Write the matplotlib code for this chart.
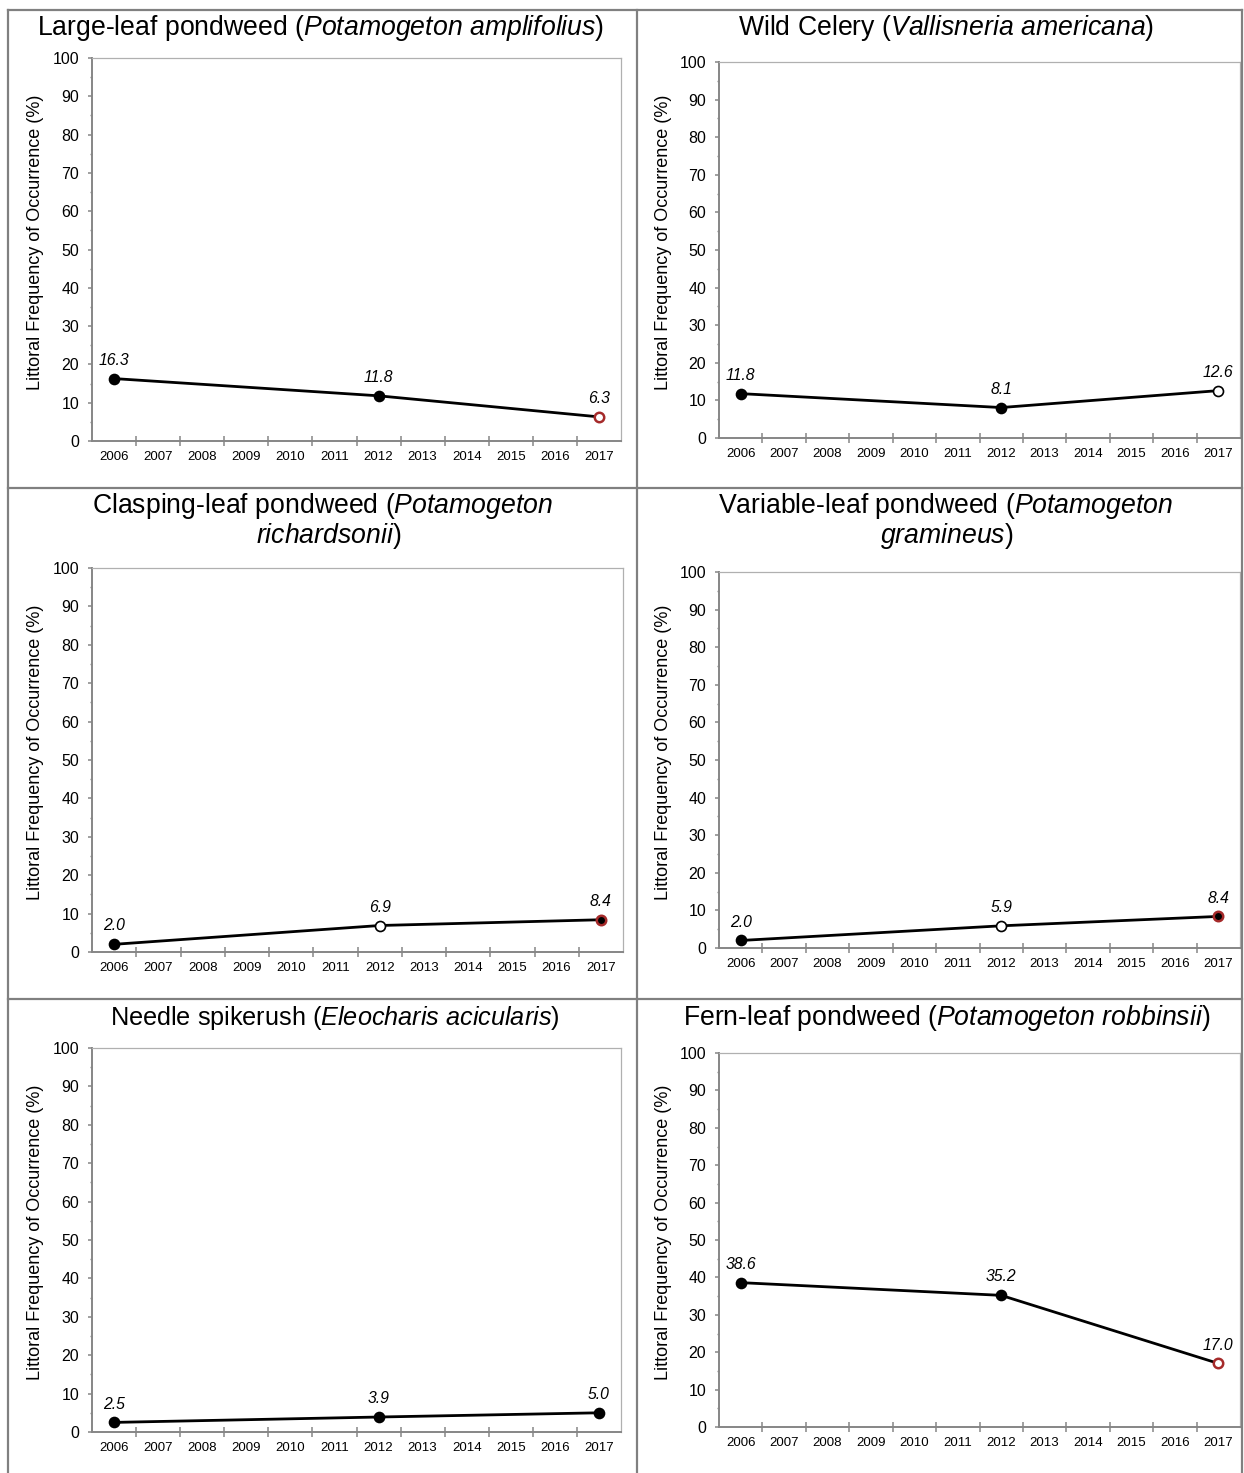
import matplotlib
matplotlib.use("Agg")
import matplotlib.pyplot as plt
from matplotlib.lines import Line2D
from matplotlib.ticker import MultipleLocator

plt.rcParams["font.family"] = ["Liberation Sans", "DejaVu Sans"]
plt.rcParams["mathtext.fontset"] = "custom"
plt.rcParams["mathtext.rm"] = "Liberation Sans"
plt.rcParams["mathtext.it"] = "Liberation Sans:italic"

W, H = 1244, 1473

# category axis and survey years
YEARS = ["2006", "2007", "2008", "2009", "2010", "2011",
         "2012", "2013", "2014", "2015", "2016", "2017"]
SURVEYS = ["2006", "2012", "2017"]

# littoral frequency of occurrence (%) per species
amplifolius = [16.3, 11.8, 6.3]
vallisneria = [11.8, 8.1, 12.6]
richardsonii = [2.0, 6.9, 8.4]
gramineus = [2.0, 5.9, 8.4]
eleocharis = [2.5, 3.9, 5.0]
robbinsii = [38.6, 35.2, 17.0]

BLACK = "#000000"
RED = "#a52a2a"
SPINE = "#868686"
SPINE_LIGHT = "#b0b0b0"
FRAME = "#808080"

# marker (face, edge) per survey point
M_SOLID = ("black", BLACK)
M_OPEN = ("white", BLACK)
M_OPEN_RED = ("white", RED)
M_SOLID_RED = ("black", RED)

panels = [
    # title lines (text, centre x, baseline y), title size, values, markers, axes box (l, t, r, b) px
    ([("Large-leaf pondweed ($\\mathit{Potamogeton\\ amplifolius}$)", 321, 35)], 19.2,
     amplifolius, [M_SOLID, M_SOLID, M_OPEN_RED], (92, 58, 621, 441)),
    ([("Wild Celery ($\\mathit{Vallisneria\\ americana}$)", 946, 35)], 19.2,
     vallisneria, [M_SOLID, M_SOLID, M_OPEN], (719, 62, 1240, 438)),
    ([("Clasping-leaf pondweed ($\\mathit{Potamogeton}$", 323, 513),
      ("$\\mathit{richardsonii}$)", 329, 543)], 19.2,
     richardsonii, [M_SOLID, M_OPEN, M_SOLID_RED], (92, 568, 623, 952)),
    ([("Variable-leaf pondweed ($\\mathit{Potamogeton}$", 946, 513),
      ("$\\mathit{gramineus}$)", 947, 543)], 19.2,
     gramineus, [M_SOLID, M_OPEN, M_SOLID_RED], (719, 572, 1240, 948)),
    ([("Needle spikerush ($\\mathit{Eleocharis\\ acicularis}$)", 335, 1025)], 18.2,
     eleocharis, [M_SOLID, M_SOLID, M_SOLID], (92, 1048, 621, 1432)),
    ([("Fern-leaf pondweed ($\\mathit{Potamogeton\\ robbinsii)}$", 947, 1025)], 19.2,
     robbinsii, [M_SOLID, M_SOLID, M_OPEN_RED], (719, 1053, 1240, 1427)),
]

fig = plt.figure(figsize=(W / 100, H / 100), dpi=100)


def fx(px):
    return px / W


def fy(py):
    return 1 - py / H


# table frame around the six panels
frame_lines = [
    ((8, 8), (10, H)), ((1242, 1242), (10, H)), ((637, 637), (10, H)),
    ((8, 1242), (10, 10)), ((8, 1242), (488, 488)), ((8, 1242), (999, 999)),
]
for xs, ys in frame_lines:
    fig.add_artist(Line2D([fx(x) for x in xs], [fy(y) for y in ys],
                          color=FRAME, lw=1.6, transform=fig.transFigure))

cats = list(range(len(YEARS)))
for lines, tsize, vals, styles, (l, t, r, b) in panels:
    ax = fig.add_axes([fx(l), fy(b), fx(r - l), (b - t) / H])
    xs = [YEARS.index(s) for s in SURVEYS]
    ax.plot(xs, vals, color=BLACK, lw=2.0, zorder=2)
    for x, v, (fc, ec) in zip(xs, vals, styles):
        ew = 1.8 if ec == RED else 1.2
        ax.plot([x], [v], marker="o", ms=6.8 if ec == RED else 7.2, mfc=fc, mec=ec,
                mew=ew, ls="none", zorder=3)
        ax.annotate(f"{v:.1f}", (x, v), xytext=(0, 10), textcoords="offset points",
                    ha="center", va="baseline", style="italic", fontsize=11.3)

    ax.set_xlim(-0.5, len(YEARS) - 0.5)
    ax.set_ylim(0, 100)
    ax.set_xticks([c + 0.5 for c in cats[:-1]])
    ax.set_xticklabels([])
    ax.set_xticks(cats, labels=YEARS, minor=True)
    ax.tick_params(axis="x", which="major", direction="inout", length=7.5,
                   width=1.1, color=SPINE)
    ax.tick_params(axis="x", which="minor", length=0, pad=7.5, labelsize=9.5)
    ax.yaxis.set_major_locator(MultipleLocator(10))
    ax.yaxis.set_minor_locator(MultipleLocator(5))
    ax.tick_params(axis="y", which="major", direction="out", length=3.2, width=1.1,
                   color=SPINE, pad=6, labelsize=11.5)
    ax.tick_params(axis="y", which="minor", direction="out", length=1.6, width=1.0,
                   color=SPINE)

    for side in ("left", "bottom"):
        ax.spines[side].set_color(SPINE)
        ax.spines[side].set_linewidth(1.4)
    for side in ("top", "right"):
        ax.spines[side].set_color(SPINE_LIGHT)
        ax.spines[side].set_linewidth(0.9)

    ax.set_ylabel("Littoral Frequency of Occurrence (%)", fontsize=13)
    ax.yaxis.set_label_coords(-0.09, 0.52)

    for text, tx, by in lines:
        fig.text(fx(tx), fy(by), text, ha="center", va="baseline", fontsize=tsize)

fig.savefig("out.png", dpi=100, facecolor="white")
